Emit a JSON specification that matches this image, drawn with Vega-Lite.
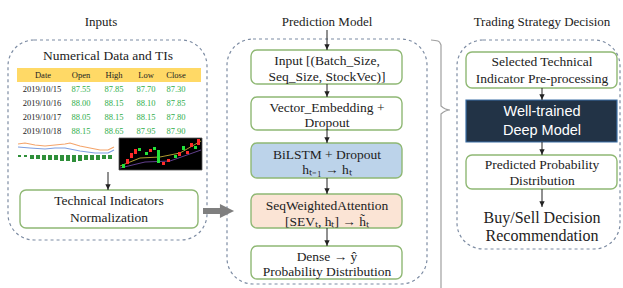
{
  "$schema": "https://vega.github.io/schema/vega-lite/v6.json",
  "width": 623,
  "height": 288,
  "padding": 0,
  "autosize": {"type": "none"},
  "background": "white",
  "config": {"view": {"stroke": null}, "axis": {"disable": true}},
  "resolve": {"scale": {"fill": "independent", "stroke": "independent", "color": "independent"}},
  "datasets": {
    "groups": [
      {"x": 8, "x2": 207, "y": 40, "y2": 240},
      {"x": 227, "x2": 427, "y": 39, "y2": 284},
      {"x": 457, "x2": 620, "y": 40, "y2": 249}
    ],
    "boxes": [
      {"x": 20, "x2": 198, "y": 190, "y2": 228, "k": "plain"},
      {"x": 251, "x2": 402, "y": 50, "y2": 84, "k": "plain"},
      {"x": 251, "x2": 402, "y": 97, "y2": 130, "k": "plain"},
      {"x": 251, "x2": 402, "y": 143, "y2": 178, "k": "lstm"},
      {"x": 251, "x2": 402, "y": 194, "y2": 228, "k": "attn"},
      {"x": 251, "x2": 402, "y": 246, "y2": 279, "k": "plain"},
      {"x": 466, "x2": 617, "y": 52, "y2": 88, "k": "plain"},
      {"x": 466, "x2": 617, "y": 100, "y2": 142, "k": "dark"},
      {"x": 466, "x2": 617, "y": 155, "y2": 189, "k": "plain"}
    ],
    "header": [{"x": 17, "x2": 201, "y": 68, "y2": 82}],
    "candlebox": [{"x": 119, "x2": 202, "y": 138, "y2": 170}],
    "candles": [
      {"x": 122, "x2": 125, "y": 164, "y2": 168, "c": "g"},
      {"x": 126, "x2": 129, "y": 159, "y2": 164, "c": "r"},
      {"x": 130, "x2": 133, "y": 153, "y2": 158, "c": "r"},
      {"x": 134, "x2": 137, "y": 149, "y2": 154, "c": "r"},
      {"x": 138, "x2": 141, "y": 148, "y2": 151, "c": "g"},
      {"x": 145, "x2": 148, "y": 152, "y2": 155, "c": "g"},
      {"x": 149, "x2": 152, "y": 149, "y2": 152, "c": "r"},
      {"x": 153, "x2": 156, "y": 147, "y2": 150, "c": "g"},
      {"x": 157, "x2": 160, "y": 150, "y2": 163, "c": "g"},
      {"x": 162, "x2": 165, "y": 162, "y2": 165, "c": "r"},
      {"x": 167, "x2": 170, "y": 159, "y2": 162, "c": "r"},
      {"x": 174, "x2": 177, "y": 155, "y2": 158, "c": "g"},
      {"x": 178, "x2": 181, "y": 152, "y2": 156, "c": "r"},
      {"x": 182, "x2": 185, "y": 146, "y2": 150, "c": "g"},
      {"x": 186, "x2": 189, "y": 151, "y2": 154, "c": "r"},
      {"x": 190, "x2": 193, "y": 143, "y2": 147, "c": "r"},
      {"x": 194, "x2": 197, "y": 146, "y2": 149, "c": "g"},
      {"x": 197, "x2": 200, "y": 139, "y2": 145, "c": "r"}
    ],
    "series": [
      {"s": "ma1", "o": 1, "x": 120, "y": 166}, {"s": "ma1", "o": 2, "x": 140, "y": 158}, {"s": "ma1", "o": 3, "x": 160, "y": 157}, {"s": "ma1", "o": 4, "x": 180, "y": 153}, {"s": "ma1", "o": 5, "x": 201, "y": 141},
      {"s": "ma2", "o": 1, "x": 120, "y": 168}, {"s": "ma2", "o": 2, "x": 145, "y": 162}, {"s": "ma2", "o": 3, "x": 170, "y": 161}, {"s": "ma2", "o": 4, "x": 201, "y": 150},
      {"s": "orange", "o": 1, "x": 18, "y": 144}, {"s": "orange", "o": 2, "x": 25, "y": 143}, {"s": "orange", "o": 3, "x": 35, "y": 145}, {"s": "orange", "o": 4, "x": 45, "y": 146}, {"s": "orange", "o": 5, "x": 55, "y": 145}, {"s": "orange", "o": 6, "x": 65, "y": 144}, {"s": "orange", "o": 7, "x": 70, "y": 143}, {"s": "orange", "o": 8, "x": 80, "y": 146}, {"s": "orange", "o": 9, "x": 90, "y": 148}, {"s": "orange", "o": 10, "x": 100, "y": 150}, {"s": "orange", "o": 11, "x": 108, "y": 150}, {"s": "orange", "o": 12, "x": 114, "y": 147},
      {"s": "blue", "o": 1, "x": 18, "y": 147}, {"s": "blue", "o": 2, "x": 30, "y": 148}, {"s": "blue", "o": 3, "x": 45, "y": 149}, {"s": "blue", "o": 4, "x": 55, "y": 148}, {"s": "blue", "o": 5, "x": 65, "y": 148}, {"s": "blue", "o": 6, "x": 80, "y": 151}, {"s": "blue", "o": 7, "x": 95, "y": 153}, {"s": "blue", "o": 8, "x": 108, "y": 153}, {"s": "blue", "o": 9, "x": 114, "y": 150}
    ],
    "vol": [
      {"x": 18, "x2": 21, "y": 155, "y2": 157}, {"x": 24, "x2": 27, "y": 155, "y2": 157},
      {"x": 30, "x2": 34, "y": 155, "y2": 159}, {"x": 36, "x2": 40, "y": 155, "y2": 159},
      {"x": 42, "x2": 46, "y": 155, "y2": 160}, {"x": 48, "x2": 52, "y": 155, "y2": 160},
      {"x": 54, "x2": 58, "y": 155, "y2": 160}, {"x": 60, "x2": 64, "y": 155, "y2": 161},
      {"x": 66, "x2": 70, "y": 155, "y2": 161}, {"x": 72, "x2": 76, "y": 155, "y2": 162},
      {"x": 78, "x2": 82, "y": 155, "y2": 161}, {"x": 84, "x2": 88, "y": 155, "y2": 160},
      {"x": 90, "x2": 94, "y": 155, "y2": 160}, {"x": 96, "x2": 100, "y": 155, "y2": 160},
      {"x": 102, "x2": 106, "y": 155, "y2": 159}, {"x": 108, "x2": 112, "y": 155, "y2": 159}
    ],
    "brace": [
      {"o": 1, "x": 431, "y": 40}, {"o": 2, "x": 438, "y": 41}, {"o": 3, "x": 441, "y": 45},
      {"o": 4, "x": 441, "y": 106}, {"o": 5, "x": 450, "y": 110}, {"o": 6, "x": 441, "y": 114},
      {"o": 7, "x": 441, "y": 290}
    ],
    "arrows": [
      {"x": 108, "y": 172, "y2": 190},
      {"x": 327, "y": 30, "y2": 50},
      {"x": 327, "y": 84, "y2": 97},
      {"x": 327, "y": 130, "y2": 143},
      {"x": 327, "y": 178, "y2": 194},
      {"x": 327, "y": 228, "y2": 246},
      {"x": 542, "y": 88, "y2": 100},
      {"x": 542, "y": 142, "y2": 155},
      {"x": 542, "y": 189, "y2": 207}
    ],
    "bigarrow": [{"x": 203, "x2": 223, "y": 208, "y2": 214, "hx": 227, "hy": 211}],
    "texts": [
      {"x": 101, "y": 22, "t": "Inputs", "k": "title"},
      {"x": 327, "y": 22, "t": "Prediction Model", "k": "title"},
      {"x": 542, "y": 22, "t": "Trading Strategy Decision", "k": "title"},
      {"x": 108, "y": 56, "t": "Numerical Data and TIs", "k": "box"},
      {"x": 109, "y": 201, "t": "Technical  Indicators", "k": "box"},
      {"x": 109, "y": 218, "t": "Normalization", "k": "box"},
      {"x": 327, "y": 61, "t": "Input [(Batch_Size,", "k": "box"},
      {"x": 327, "y": 77, "t": "Seq_Size, StockVec)]", "k": "box"},
      {"x": 327, "y": 108, "t": "Vector_Embedding +", "k": "box"},
      {"x": 327, "y": 123, "t": "Dropout", "k": "box"},
      {"x": 327, "y": 155, "t": "BiLSTM + Dropout", "k": "box"},
      {"x": 327, "y": 170, "t": "hₜ₋₁ → hₜ", "k": "box"},
      {"x": 327, "y": 206, "t": "SeqWeightedAttention", "k": "box"},
      {"x": 327, "y": 222, "t": "[SEVₜ, hₜ] → h̃ₜ", "k": "box"},
      {"x": 327, "y": 257, "t": "Dense → ŷ", "k": "box"},
      {"x": 327, "y": 272, "t": "Probability Distribution", "k": "box"},
      {"x": 542, "y": 62, "t": "Selected  Technical", "k": "box"},
      {"x": 542, "y": 79, "t": "Indicator Pre-processing", "k": "box"},
      {"x": 542, "y": 165, "t": "Predicted  Probability", "k": "box"},
      {"x": 542, "y": 181, "t": "Distribution", "k": "box"},
      {"x": 542, "y": 112, "t": "Well-trained", "k": "dark"},
      {"x": 542, "y": 131, "t": "Deep Model", "k": "dark"},
      {"x": 542, "y": 218, "t": "Buy/Sell Decision", "k": "big"},
      {"x": 542, "y": 236, "t": "Recommendation", "k": "big"},
      {"x": 43, "y": 75, "t": "Date", "k": "head"},
      {"x": 81, "y": 75, "t": "Open", "k": "head"},
      {"x": 114, "y": 75, "t": "High", "k": "head"},
      {"x": 146, "y": 75, "t": "Low", "k": "head"},
      {"x": 176, "y": 75, "t": "Close", "k": "head"},
      {"x": 42, "y": 89, "t": "2019/10/15", "k": "date"},
      {"x": 42, "y": 103, "t": "2019/10/16", "k": "date"},
      {"x": 42, "y": 117, "t": "2019/10/17", "k": "date"},
      {"x": 42, "y": 131, "t": "2019/10/18", "k": "date"},
      {"x": 81, "y": 89, "t": "87.55", "k": "val"}, {"x": 114, "y": 89, "t": "87.85", "k": "val"}, {"x": 146, "y": 89, "t": "87.70", "k": "val"}, {"x": 176, "y": 89, "t": "87.30", "k": "val"},
      {"x": 81, "y": 103, "t": "88.00", "k": "val"}, {"x": 114, "y": 103, "t": "88.15", "k": "val"}, {"x": 146, "y": 103, "t": "88.10", "k": "val"}, {"x": 176, "y": 103, "t": "87.85", "k": "val"},
      {"x": 81, "y": 117, "t": "88.05", "k": "val"}, {"x": 114, "y": 117, "t": "88.15", "k": "val"}, {"x": 146, "y": 117, "t": "88.15", "k": "val"}, {"x": 176, "y": 117, "t": "87.80", "k": "val"},
      {"x": 81, "y": 131, "t": "88.15", "k": "val"}, {"x": 114, "y": 131, "t": "88.65", "k": "val"}, {"x": 146, "y": 131, "t": "87.95", "k": "val"}, {"x": 176, "y": 131, "t": "87.90", "k": "val"}
    ]
  },
  "encoding": {
    "x": {"field": "x", "type": "quantitative", "scale": {"domain": [0, 623], "nice": false, "zero": false}},
    "y": {"field": "y", "type": "quantitative", "scale": {"domain": [0, 288], "nice": false, "zero": false, "reverse": true}}
  },
  "layer": [
    {
      "data": {"name": "groups"},
      "mark": {"type": "rect", "fill": null, "stroke": "#7d8ca3", "strokeWidth": 1.2, "strokeDash": [3, 3], "cornerRadius": 26},
      "encoding": {"x2": {"field": "x2"}, "y2": {"field": "y2"}}
    },
    {
      "data": {"name": "header"},
      "mark": {"type": "rect", "fill": "#ffd966"},
      "encoding": {"x2": {"field": "x2"}, "y2": {"field": "y2"}}
    },
    {
      "data": {"name": "series"},
      "transform": [{"filter": "datum.s == 'orange'"}],
      "mark": {"type": "line", "strokeWidth": 1.2, "color": "#f4a46a"},
      "encoding": {"order": {"field": "o"}}
    },
    {
      "data": {"name": "series"},
      "transform": [{"filter": "datum.s == 'blue'"}],
      "mark": {"type": "line", "strokeWidth": 1.2, "color": "#7d9ee0"},
      "encoding": {"order": {"field": "o"}}
    },
    {
      "data": {"name": "vol"},
      "mark": {"type": "rect", "fill": "#2f8f3a"},
      "encoding": {"x2": {"field": "x2"}, "y2": {"field": "y2"}}
    },
    {
      "data": {"name": "candlebox"},
      "mark": {"type": "rect", "fill": "#000000", "stroke": "#555555", "strokeWidth": 0.8},
      "encoding": {"x2": {"field": "x2"}, "y2": {"field": "y2"}}
    },
    {
      "data": {"name": "series"},
      "transform": [{"filter": "datum.s == 'ma1'"}],
      "mark": {"type": "line", "strokeWidth": 0.8, "color": "#d8c23a"},
      "encoding": {"order": {"field": "o"}}
    },
    {
      "data": {"name": "series"},
      "transform": [{"filter": "datum.s == 'ma2'"}],
      "mark": {"type": "line", "strokeWidth": 0.8, "color": "#7a4fb0"},
      "encoding": {"order": {"field": "o"}}
    },
    {
      "data": {"name": "candles"},
      "transform": [{"filter": "datum.c == 'r'"}],
      "mark": {"type": "rect", "fill": "#ff2a2a"},
      "encoding": {"x2": {"field": "x2"}, "y2": {"field": "y2"}}
    },
    {
      "data": {"name": "candles"},
      "transform": [{"filter": "datum.c == 'g'"}],
      "mark": {"type": "rect", "fill": "#22e23a"},
      "encoding": {"x2": {"field": "x2"}, "y2": {"field": "y2"}}
    },
    {
      "data": {"name": "boxes"},
      "transform": [{"filter": "datum.k == 'plain'"}],
      "mark": {"type": "rect", "cornerRadius": 6, "strokeWidth": 1.4, "fill": "#ffffff", "stroke": "#8fb874"},
      "encoding": {"x2": {"field": "x2"}, "y2": {"field": "y2"}}
    },
    {
      "data": {"name": "boxes"},
      "transform": [{"filter": "datum.k == 'lstm'"}],
      "mark": {"type": "rect", "cornerRadius": 6, "strokeWidth": 1.4, "fill": "#bcd3ea", "stroke": "#8fb874"},
      "encoding": {"x2": {"field": "x2"}, "y2": {"field": "y2"}}
    },
    {
      "data": {"name": "boxes"},
      "transform": [{"filter": "datum.k == 'attn'"}],
      "mark": {"type": "rect", "cornerRadius": 6, "strokeWidth": 1.4, "fill": "#fbe4d5", "stroke": "#8fb874"},
      "encoding": {"x2": {"field": "x2"}, "y2": {"field": "y2"}}
    },
    {
      "data": {"name": "boxes"},
      "transform": [{"filter": "datum.k == 'dark'"}],
      "mark": {"type": "rect", "strokeWidth": 1.2, "fill": "#223346", "stroke": "#3b6ea5"},
      "encoding": {"x2": {"field": "x2"}, "y2": {"field": "y2"}}
    },
    {
      "data": {"name": "brace"},
      "mark": {"type": "line", "color": "#a0a0a0", "strokeWidth": 1.2, "interpolate": "monotone"},
      "encoding": {"order": {"field": "o"}}
    },
    {
      "data": {"name": "arrows"},
      "mark": {"type": "rule", "color": "#222222", "strokeWidth": 1},
      "encoding": {"y2": {"field": "y2"}}
    },
    {
      "data": {"name": "arrows"},
      "mark": {"type": "point", "shape": "M-1,-1L1,-1L0,1Z", "filled": true, "color": "#222222", "size": 28, "opacity": 1, "yOffset": -3},
      "encoding": {"y": {"field": "y2", "type": "quantitative"}}
    },
    {
      "data": {"name": "bigarrow"},
      "mark": {"type": "rect", "fill": "#7f7f7f"},
      "encoding": {"x2": {"field": "x2"}, "y2": {"field": "y2"}}
    },
    {
      "data": {"name": "bigarrow"},
      "mark": {"type": "point", "shape": "M-1,-1L1,0L-1,1Z", "filled": true, "color": "#7f7f7f", "size": 200, "opacity": 1},
      "encoding": {"x": {"field": "hx", "type": "quantitative"}, "y": {"field": "hy", "type": "quantitative"}}
    },
    {
      "data": {"name": "texts"},
      "transform": [{"filter": "datum.k == 'title'"}],
      "mark": {"type": "text", "font": "Liberation Serif", "fontSize": 13, "color": "#222222", "baseline": "middle", "align": "center"},
      "encoding": {"text": {"field": "t"}}
    },
    {
      "data": {"name": "texts"},
      "transform": [{"filter": "datum.k == 'box'"}],
      "mark": {"type": "text", "font": "Liberation Serif", "fontSize": 13.5, "color": "#222222", "baseline": "middle", "align": "center"},
      "encoding": {"text": {"field": "t"}}
    },
    {
      "data": {"name": "texts"},
      "transform": [{"filter": "datum.k == 'big'"}],
      "mark": {"type": "text", "font": "Liberation Serif", "fontSize": 16, "color": "#222222", "baseline": "middle", "align": "center"},
      "encoding": {"text": {"field": "t"}}
    },
    {
      "data": {"name": "texts"},
      "transform": [{"filter": "datum.k == 'dark'"}],
      "mark": {"type": "text", "font": "Liberation Sans", "fontSize": 14.5, "color": "#ffffff", "baseline": "middle", "align": "center"},
      "encoding": {"text": {"field": "t"}}
    },
    {
      "data": {"name": "texts"},
      "transform": [{"filter": "datum.k == 'head' || datum.k == 'date'"}],
      "mark": {"type": "text", "font": "Liberation Serif", "fontSize": 8.5, "color": "#222222", "baseline": "middle", "align": "center"},
      "encoding": {"text": {"field": "t"}}
    },
    {
      "data": {"name": "texts"},
      "transform": [{"filter": "datum.k == 'val'"}],
      "mark": {"type": "text", "font": "Liberation Serif", "fontSize": 8.5, "color": "#2fae4a", "baseline": "middle", "align": "center"},
      "encoding": {"text": {"field": "t"}}
    }
  ]
}
